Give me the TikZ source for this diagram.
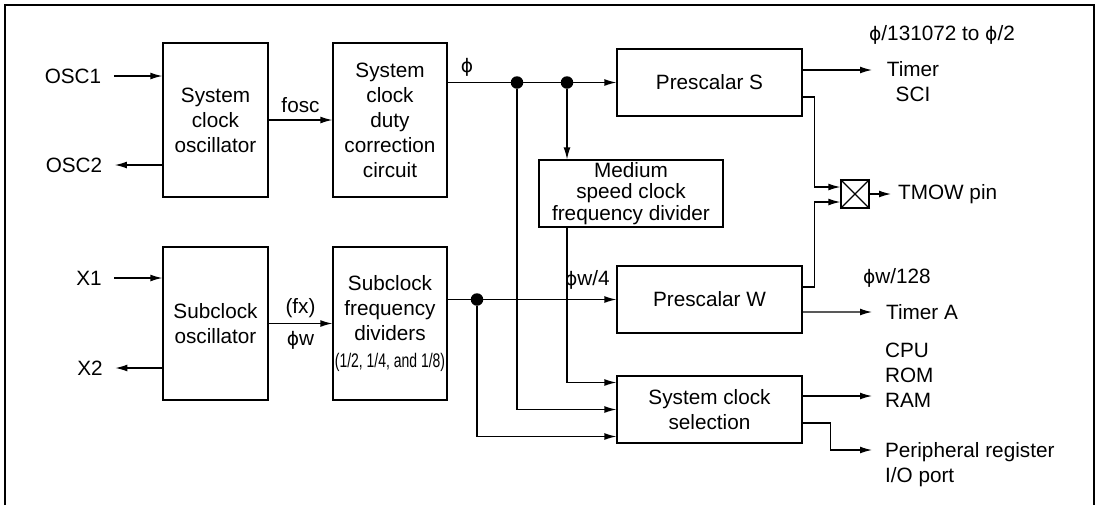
\documentclass[tikz,border=0pt]{standalone}
\usepackage{graphicx}
\usepackage{fontspec}
\setmainfont{Liberation Sans}
\newfontfamily\dvs[Scale=0.9]{DejaVu Sans}
\usepackage{tikz}
\usetikzlibrary{calc,arrows.meta}
\newcommand{\ph}{{\dvs ϕ}}
\newcommand{\lblfont}{\fontsize{11.8}{14.2}\selectfont}
\tikzset{blk/.style={draw,line width=0.7pt,align=center,inner sep=1pt,font=\lblfont},
  lbl/.style={inner sep=1pt,font=\lblfont},
  sig/.style={line width=0.7pt,-{Latex[length=6.8pt,width=3.9pt]}},
  dot/.style={circle,fill,inner sep=0pt,minimum size=0.25cm}}

\begin{document}
\begin{tikzpicture}[x=0.02cm,y=-0.02cm]
\useasboundingbox (0,0) rectangle (1100,505);
\draw[line width=1.3pt] (5,505) -- (5,5) -- (1094,5) -- (1094,505);
\node[blk,minimum width=2.1cm,minimum height=3.08cm] (sosc) at (215.5,120) {System\\clock\\oscillator};
\node[blk,minimum width=2.28cm,minimum height=3.08cm] (duty) at (390,120) {System\\clock\\duty\\correction\\circuit};
\node[blk,minimum width=2.1cm,minimum height=3.06cm] (subosc) at (215.5,323.5) {Subclock\\oscillator};
\node[blk,minimum width=2.28cm,minimum height=3.06cm] (subdiv) at (390,323.5) {Subclock\\frequency\\dividers\\[1pt]{\fontsize{11.2}{12}\selectfont\scalebox{0.71}[1]{(1/2, 1/4, and 1/8)}}};
\node[blk,minimum width=3.7cm,minimum height=1.34cm] (preS) at (709.5,82.5) {Prescalar S};
\node[blk,minimum width=3.68cm,minimum height=1.34cm,font=\fontsize{11.8}{12.3}\selectfont] (med) at (631,193.5) {Medium\\speed clock\\frequency divider};
\node[blk,minimum width=3.7cm,minimum height=1.34cm] (preW) at (709.5,299.5) {Prescalar W};
\node[blk,minimum width=3.7cm,minimum height=1.34cm] (sel) at (709.5,409.5) {System clock\\selection};
\node[draw,line width=0.7pt,minimum size=0.56cm,inner sep=0pt] (tmow) at (855,194) {};
\draw[line width=0.7pt] (tmow.north west) -- (tmow.south east) (tmow.north east) -- (tmow.south west);

\node[lbl] (osc1) at (73,76) {OSC1}; \node[lbl] (osc2) at (74,165) {OSC2};
\node[lbl] (x1) at (89,278) {X1}; \node[lbl] (x2) at (90,368) {X2};
\draw[sig] ([xshift=6pt]osc1.east) -- (osc1.east -| sosc.west);
\draw[sig] (osc2.east -| sosc.west) -- ([xshift=6pt]osc2.east);
\draw[sig] ([xshift=6pt]x1.east) -- (x1.east -| subosc.west);
\draw[sig] (x2.east -| subosc.west) -- ([xshift=6pt]x2.east);
\draw[sig] (sosc) -- node[lbl,above=3pt] {fosc} (duty);
\draw[sig] (subosc) -- node[lbl,above=2pt] {(fx)} node[lbl,below=3pt] {\ph w} (subdiv);

\node[dot] (d1) at (517,82.5) {}; \node[dot] (d2) at (567,82.5) {}; \node[dot] (d3) at (477,299.5) {};
\draw[sig] (duty.east |- preS.west) -- (preS.west);
\node[lbl] (phi) at (467,67) {\ph};
\draw[sig] (d2) -- (d2 |- med.north);
\draw[sig] (subdiv.east |- preW.west) -- (preW.west);
\node[lbl,anchor=west] (pw4) at (563,280) {\ph w/4};
\draw[sig] (d2 |- med.south) |- ($(sel.west)+(0,-27)$);
\draw[sig] (d1) |- (sel.west);
\draw[sig] (d3) |- ($(sel.west)+(0,27)$);

\coordinate (tsciIn) at (872,70); \coordinate (taIn) at (872,312); \coordinate (cpuIn) at (872,396);
\coordinate (perIn) at (872,450); \coordinate (pinIn) at (891,194);
\node[lbl] (range) at (942,35) {\ph/131072 to \ph/2};
\node[lbl,align=center] (tsci) at (913,82) {Timer\\SCI};
\node[lbl,anchor=west] (pw128) at (861,278) {\ph w/128};
\node[lbl,anchor=west] (ta) at (884,312) {Timer A};
\node[lbl,anchor=west,align=left] (cpu) at (883,375) {CPU\\ROM\\RAM};
\node[lbl,anchor=west,align=left] (per) at (883,465) {Peripheral register\\I/O port};
\node[lbl,anchor=west] (pin) at (896,194) {TMOW pin};
\draw[sig] ($(preS.east)+(0,-12.5)$) -- (tsciIn);
\draw[sig] ($(preS.east)+(0,14.5)$) -- ++(12,0) |- ($(tmow.west)+(0,-7)$);
\draw[sig] ($(preW.east)+(0,-12.5)$) -- ++(12,0) |- ($(tmow.west)+(0,8)$);
\draw[sig] (tmow.east) -- (pinIn);
\draw[sig] ($(preW.east)+(0,12.5)$) -- (taIn);
\draw[sig] ($(sel.east)+(0,-13.5)$) -- (cpuIn);
\draw[sig] ($(sel.east)+(0,13.5)$) -- ++(28,0) |- (perIn);
\end{tikzpicture}
\end{document}
